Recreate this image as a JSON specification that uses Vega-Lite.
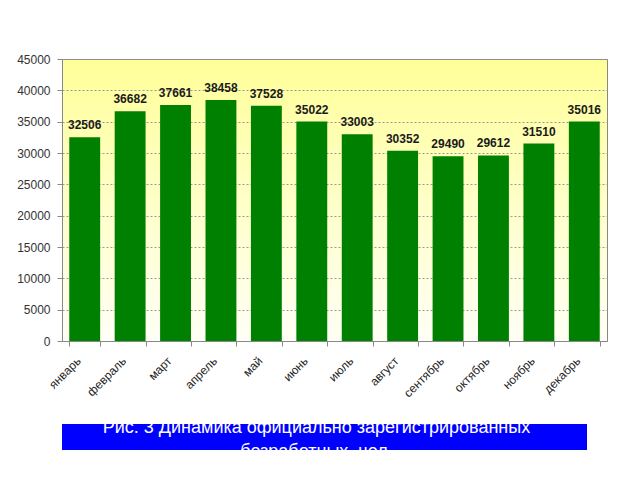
{
  "$schema": "https://vega.github.io/schema/vega-lite/v6.json",
  "padding": {"left": 16, "top": 52, "right": 0, "bottom": 0},
  "background": "white",
  "config": {"font": "Liberation Sans", "view": {"stroke": null}},
  "spacing": 19,
  "vconcat": [
    {
      "width": 545,
      "height": 282,
      "view": {
        "stroke": "#888888",
        "strokeWidth": 1,
        "fill": {"gradient": "linear", "x1": 0, "y1": 0, "x2": 0, "y2": 1,
          "stops": [{"offset": 0, "color": "#ffff99"}, {"offset": 1, "color": "#fffff6"}]}
      },
      "data": {"values": [
        {"month": "январь", "value": 32506},
        {"month": "февраль", "value": 36682},
        {"month": "март", "value": 37661},
        {"month": "апрель", "value": 38458},
        {"month": "май", "value": 37528},
        {"month": "июнь", "value": 35022},
        {"month": "июль", "value": 33003},
        {"month": "август", "value": 30352},
        {"month": "сентябрь", "value": 29490},
        {"month": "октябрь", "value": 29612},
        {"month": "ноябрь", "value": 31510},
        {"month": "декабрь", "value": 35016}
      ]},
      "encoding": {
        "x": {
          "field": "month", "type": "nominal", "sort": null,
          "scale": {"paddingInner": 0.32, "paddingOuter": 0.16},
          "axis": {
            "title": null, "labelAngle": -45, "labelFontSize": 12, "labelColor": "#222222",
            "tickBand": "extent", "tickSize": 5, "tickColor": "#888888",
            "domainColor": "#888888", "labelPadding": 9, "labelOffset": -10
          }
        },
        "y": {
          "field": "value", "type": "quantitative",
          "scale": {"domain": [0, 45000], "nice": false},
          "axis": {
            "title": null, "format": "d", "values": [0, 5000, 10000, 15000, 20000, 25000, 30000, 35000, 40000, 45000],
            "labelFontSize": 12, "labelColor": "#333333", "labelPadding": 7,
            "tickSize": 5, "tickColor": "#888888", "domainColor": "#888888",
            "gridColor": "#999999", "gridDash": [2, 2], "gridWidth": 1
          }
        }
      },
      "layer": [
        {"mark": {"type": "bar", "color": "#008000"}},
        {
          "mark": {"type": "text", "fontWeight": "bold", "fontSize": 12, "color": "#1a1a1a", "baseline": "middle", "dy": -12},
          "encoding": {"text": {"field": "value", "type": "quantitative", "format": "d"}}
        }
      ]
    },
    {
      "width": 525,
      "height": 26,
      "view": {"fill": "#0000ff", "stroke": null},
      "data": {"values": [{"caption": "Рис. 3 Динамика официально зарегистрированных\nбезработных, чел."}]},
      "mark": {"type": "text", "color": "white", "fontSize": 18, "lineBreak": "\n", "lineHeight": 24, "baseline": "alphabetic", "dy": -4, "dx": -8},
      "encoding": {"text": {"field": "caption", "type": "nominal"}}
    }
  ]
}
